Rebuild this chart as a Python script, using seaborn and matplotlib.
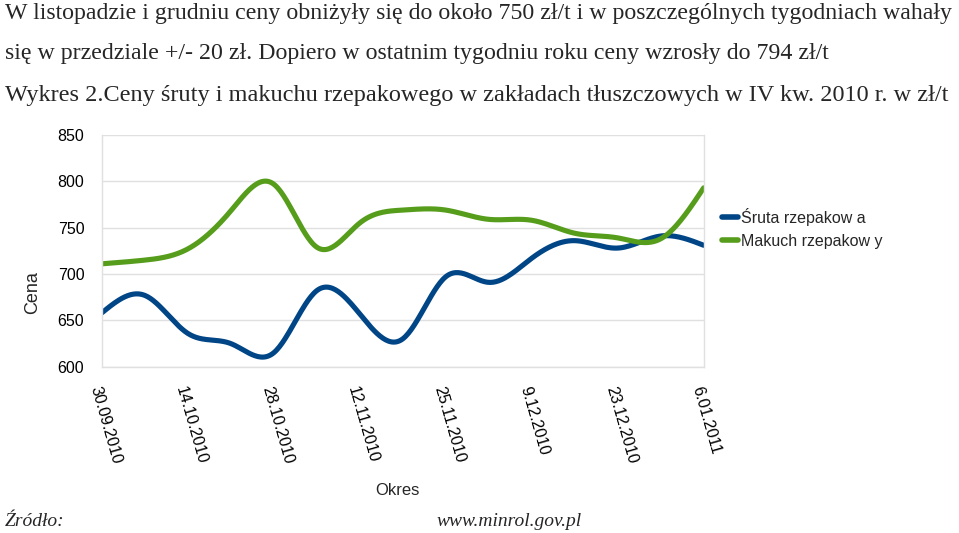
import numpy as np
import pandas as pd
import matplotlib
matplotlib.use("Agg")
import matplotlib.pyplot as plt
import seaborn as sns

# ---- data ----
dates = ["30.09.2010", "7.10.2010", "14.10.2010", "21.10.2010", "28.10.2010",
         "4.11.2010", "12.11.2010", "18.11.2010", "25.11.2010", "2.12.2010",
         "9.12.2010", "16.12.2010", "23.12.2010", "30.12.2010", "6.01.2011"]
sruta = [658, 677, 636, 625, 615, 682, 657, 630, 697, 691, 717, 736, 728, 741, 731]
makuch = [711, 715, 727, 768, 797, 729, 755, 769, 769, 759, 758, 744, 739, 738, 793]
series_names = ["Śruta rzepakow a", "Makuch rzepakow y"]
colors = ["#004586", "#579d1c"]
yticks = [600, 650, 700, 750, 800, 850]


def natural_spline(y, n_per=30):
    y = np.asarray(y, float)
    n = len(y)
    A = np.zeros((n, n))
    b = np.zeros(n)
    A[0, 0] = A[-1, -1] = 1
    for i in range(1, n - 1):
        A[i, i - 1] = 1
        A[i, i] = 4
        A[i, i + 1] = 1
        b[i] = 6 * (y[i + 1] - 2 * y[i] + y[i - 1])
    M = np.linalg.solve(A, b)
    xs = np.linspace(0, n - 1, (n - 1) * n_per + 1)
    idx = np.clip(np.floor(xs).astype(int), 0, n - 2)
    t = xs - idx
    ys = ((1 - t) * y[idx] + t * y[idx + 1]
          + ((1 - t) ** 3 - (1 - t)) * M[idx] / 6
          + (t ** 3 - t) * M[idx + 1] / 6)
    return xs, ys


frames = []
for name, vals in zip(series_names, [sruta, makuch]):
    xs, ys = natural_spline(vals)
    frames.append(pd.DataFrame({"x": xs, "y": ys, "Seria": name}))
df = pd.concat(frames, ignore_index=True)

sns.set_theme(style="white")
plt.rcParams["font.family"] = ["Liberation Sans", "DejaVu Sans"]

fig = plt.figure(figsize=(9.59, 5.33), dpi=100)
ax = fig.add_axes([101.7 / 959, 1 - 366.7 / 533, 602 / 959, 231.7 / 533])

sns.lineplot(data=df, x="x", y="y", hue="Seria", palette=colors,
             linewidth=3.7, ax=ax, legend=True, sort=False)

ax.set_xlim(0, len(dates) - 1)
ax.set_ylim(600, 850)
ax.set_yticks(yticks)
ax.set_yticklabels([str(v) for v in yticks], fontsize=11.5, color="#000000")
ax.set_xticks(range(len(dates)))
ax.set_xticklabels([d if i % 2 == 0 else "" for i, d in enumerate(dates)],
                   rotation=-74, ha="left", va="top", rotation_mode="anchor",
                   fontsize=11.5, color="#000000")
ax.tick_params(axis="both", which="major", length=8, width=1, color="#d9d9d9",
               direction="out", pad=4.5)
ax.tick_params(axis="x", pad=5)
ax.grid(axis="y", color="#e0e0e0", linewidth=1)
ax.spines["top"].set_visible(False)
for side in ["left", "bottom", "right"]:
    ax.spines[side].set_color("#e0e0e0")
    ax.spines[side].set_linewidth(1)

ax.set_xlabel("Okres", fontsize=12)
ax.set_ylabel("Cena", fontsize=13)
ax.xaxis.set_label_coords((397 - 101.7) / 602, -(483 - 366.7) / 231.7)
ax.yaxis.set_label_coords(-(101.7 - 41) / 602, (366.7 - 293) / 231.7)

leg = ax.legend(loc="upper left", bbox_to_anchor=(1.02, 0.713), frameon=False,
                fontsize=11.5, handlelength=1.0, handletextpad=0.2,
                labelspacing=0.5, borderaxespad=0)
for h in leg.get_lines():
    h.set_linewidth(4)

serif = ["Liberation Serif", "DejaVu Serif"]
fig.text(5 / 959, 1 - 13 / 533, "W listopadzie i grudniu ceny obniżyły się do około 750 zł/t i w poszczególnych tygodniach wahały",
         fontsize=17.2, family=serif, va="center", ha="left")
fig.text(5 / 959, 1 - 53 / 533, "się w przedziale +/- 20 zł. Dopiero w ostatnim tygodniu roku ceny wzrosły do 794 zł/t",
         fontsize=17.2, family=serif, va="center", ha="left")
fig.text(5 / 959, 1 - 95 / 533, "Wykres 2.Ceny śruty i makuchu rzepakowego w zakładach tłuszczowych w IV kw. 2010 r. w zł/t",
         fontsize=17.5, family=serif, va="center", ha="left")
fig.text(5 / 959, 1 - 522 / 533, "Źródło:", fontsize=14, family=serif, style="italic",
         va="center", ha="left")
fig.text(437 / 959, 1 - 522 / 533, "www.minrol.gov.pl", fontsize=14, family=serif,
         style="italic", va="center", ha="left")

fig.savefig("out.png", dpi=100)
